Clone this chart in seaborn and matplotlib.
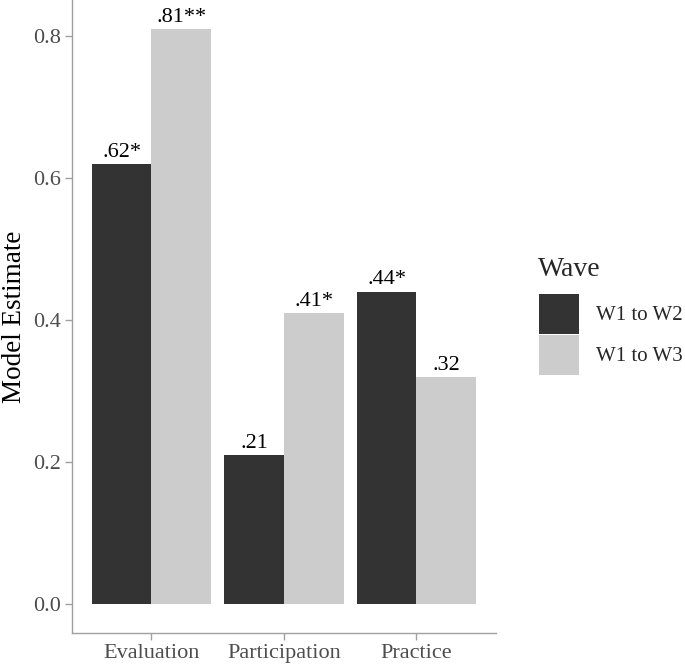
import pandas as pd
import matplotlib.pyplot as plt
import seaborn as sns

categories = ["Evaluation", "Participation", "Practice"]
waves = ["W1 to W2", "W1 to W3"]
w1_w2 = [0.62, 0.21, 0.44]
w1_w3 = [0.81, 0.41, 0.32]
lab_w1_w2 = [".62*", ".21", ".44*"]
lab_w1_w3 = [".81**", ".41*", ".32"]

df = pd.DataFrame({
    "Outcome": categories * 2,
    "Wave": [waves[0]] * 3 + [waves[1]] * 3,
    "Estimate": w1_w2 + w1_w3,
    "Label": lab_w1_w2 + lab_w1_w3,
})

sns.set_style("white")
plt.rcParams["font.family"] = ["Liberation Serif", "DejaVu Serif"]

fig = plt.figure(figsize=(6.85, 6.67), dpi=100)
ax = fig.add_axes([0.105, 0.051, 0.619, 0.949])

sns.barplot(data=df, x="Outcome", y="Estimate", hue="Wave", order=categories,
            hue_order=waves, palette=["#333333", "#CCCCCC"], width=0.9,
            saturation=1, ax=ax, errorbar=None, linewidth=0)

# labels over bars
for cont, w in zip(ax.containers, waves):
    sub = df[df["Wave"] == w].set_index("Outcome").loc[categories]
    for bar, lab in zip(cont, sub["Label"]):
        ax.text(bar.get_x() + bar.get_width() / 2, bar.get_height() + 0.003, lab,
                ha="center", va="bottom", fontsize=16, color="black")

ax.set_xlim(-0.6, 2.6)
ax.set_ylim(-0.0405, 0.8505)
ax.set_yticks([0.0, 0.2, 0.4, 0.6, 0.8])
ax.set_yticklabels(["0.0", "0.2", "0.4", "0.6", "0.8"])
ax.set_xlabel("")
ax.set_ylabel("Model Estimate", fontsize=19.5, color="black", labelpad=4)
ax.tick_params(axis="both", colors="#A0A0A0", labelcolor="#4D4D4D",
               labelsize=16, length=5, width=1, left=True, bottom=True, pad=3)
for s in ["top", "right"]:
    ax.spines[s].set_visible(False)
for s in ["left", "bottom"]:
    ax.spines[s].set_color("#A0A0A0")
    ax.spines[s].set_linewidth(1)

handles, labels = ax.get_legend_handles_labels()
ax.get_legend().remove()
fig.text(538 / 685, 1 - 269 / 667, "Wave", fontsize=20, va="center", ha="left")
leg = fig.legend(handles, labels, loc="upper left",
                 bbox_to_anchor=(539 / 685, 1 - 294 / 667), frameon=False,
                 fontsize=15, handlelength=1.92, handleheight=2.58,
                 labelspacing=0.05, handletextpad=0.82, borderpad=0,
                 borderaxespad=0)

plt.savefig("out.png", dpi=100)
